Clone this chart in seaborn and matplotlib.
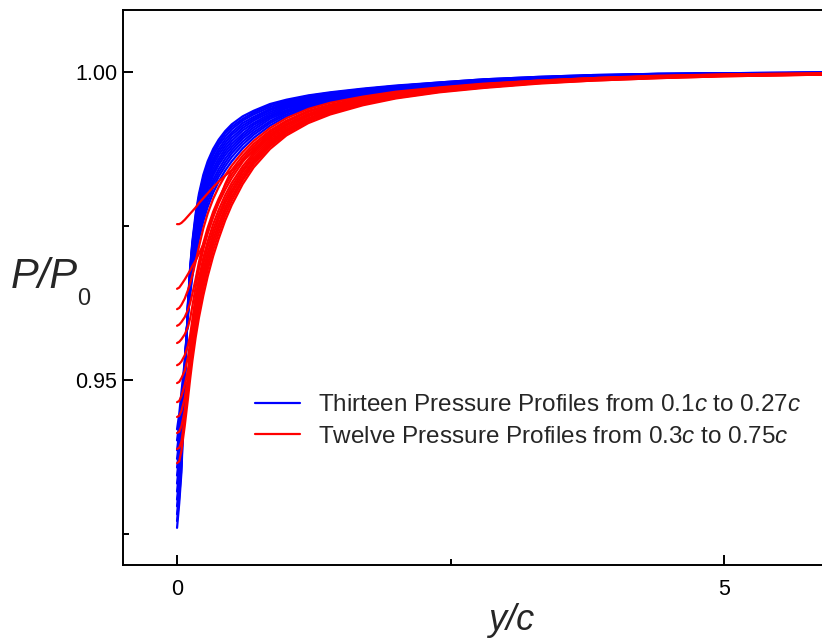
import matplotlib
matplotlib.use("Agg")
import matplotlib.pyplot as plt
import pandas as pd
import seaborn as sns
from matplotlib.ticker import FixedLocator

sns.set_theme(style="white")
plt.rcParams["font.family"] = ["Liberation Sans", "DejaVu Sans"]
plt.rcParams["mathtext.fontset"] = "custom"
plt.rcParams["mathtext.rm"] = "Liberation Sans"
plt.rcParams["mathtext.it"] = "Liberation Sans:italic"

# ---- data ----
x_grid = [0, .02, .04, .07, .1, .12, .14, .17, .2, .24, .28, .33, .38, .44, .5,
          .6, .7, .85, 1.0, 1.2, 1.4, 1.7, 2.0, 2.4, 2.8, 3.3, 3.8, 4.4, 5.0, 6.0]

blue_profiles = [
    [.926, .930, .935, .949, .9626, .9684, .9725, .9770, .9802, .9833, .9855, .9875, .9890, .9904, .9915, .9928, .9937, .9948, .9955, .9962, .9967, .9973, .9978, .9983, .9988, .9992, .9995, .9997, .9998, .9999],
    [.9271, .9310, .9359, .9493, .9625, .9681, .9721, .9765, .9797, .9828, .9850, .9870, .9885, .9900, .9911, .9924, .9934, .9946, .9953, .9961, .9966, .9972, .9977, .9983, .9988, .9992, .9995, .9997, .9998, .9999],
    [.9282, .9320, .9368, .9496, .9623, .9678, .9717, .9761, .9792, .9823, .9845, .9865, .9881, .9895, .9907, .9921, .9931, .9943, .9951, .9959, .9965, .9972, .9977, .9982, .9987, .9991, .9994, .9997, .9998, .9999],
    [.9295, .9332, .9379, .9499, .9621, .9674, .9713, .9755, .9786, .9817, .9839, .9859, .9875, .9890, .9902, .9917, .9927, .9940, .9949, .9958, .9964, .9971, .9976, .9982, .9987, .9991, .9994, .9996, .9998, .9999],
    [.9306, .9342, .9388, .9502, .9620, .9671, .9709, .9750, .9781, .9811, .9834, .9854, .9870, .9885, .9898, .9913, .9924, .9938, .9947, .9956, .9963, .9970, .9975, .9981, .9986, .9991, .9994, .9996, .9997, .9999],
    [.9319, .9354, .9398, .9505, .9618, .9667, .9704, .9745, .9775, .9805, .9828, .9849, .9865, .9880, .9893, .9909, .9921, .9935, .9945, .9955, .9961, .9969, .9975, .9980, .9986, .9990, .9994, .9996, .9997, .9999],
    [.9332, .9365, .9409, .9508, .9617, .9664, .9699, .9739, .9769, .9799, .9822, .9843, .9859, .9875, .9888, .9905, .9917, .9932, .9943, .9953, .9960, .9968, .9974, .9980, .9985, .9990, .9993, .9996, .9997, .9999],
    [.9345, .9377, .9419, .9511, .9615, .9660, .9695, .9734, .9763, .9793, .9816, .9837, .9854, .9870, .9883, .9900, .9914, .9929, .9941, .9951, .9959, .9967, .9973, .9979, .9985, .9989, .9993, .9995, .9997, .9998],
    [.9358, .9388, .9429, .9514, .9613, .9657, .9690, .9729, .9757, .9787, .9810, .9832, .9849, .9865, .9878, .9896, .9910, .9927, .9938, .9950, .9958, .9966, .9972, .9979, .9984, .9989, .9993, .9995, .9997, .9998],
    [.9372, .9402, .9441, .9518, .9611, .9653, .9685, .9722, .9751, .9781, .9803, .9825, .9842, .9859, .9873, .9892, .9906, .9924, .9936, .9948, .9957, .9965, .9972, .9978, .9984, .9988, .9992, .9995, .9997, .9998],
    [.9386, .9415, .9453, .9522, .9609, .9648, .9680, .9716, .9744, .9774, .9797, .9819, .9836, .9853, .9868, .9887, .9902, .9920, .9934, .9946, .9955, .9964, .9971, .9977, .9983, .9988, .9992, .9995, .9996, .9998],
    [.9402, .9429, .9466, .9526, .9607, .9644, .9674, .9710, .9737, .9766, .9789, .9812, .9830, .9847, .9862, .9882, .9898, .9917, .9931, .9944, .9954, .9963, .9970, .9977, .9983, .9988, .9991, .9994, .9996, .9998],
    [.942, .9445, .948, .953, .9605, .9639, .9668, .9702, .9729, .9758, .9781, .9804, .9822, .9840, .9855, .9876, .9893, .9913, .9928, .9942, .9952, .9962, .9969, .9976, .9982, .9987, .9991, .9994, .9996, .9998],
]

red_profiles = [
    [.9753, .9753, .9755, .9760, .9766, .9770, .9774, .9780, .9787, .9795, .9803, .9813, .9822, .9832, .9840, .9856, .9872, .9896, .9914, .9931, .9942, .9955, .9964, .9972, .9978, .9984, .9989, .9992, .9995, .9997],
    [.9648, .9650, .9655, .9663, .9672, .9678, .9685, .9694, .9705, .9720, .9740, .9765, .9790, .9818, .9841, .9864, .9883, .9905, .9921, .9937, .9947, .9958, .9966, .9974, .9980, .9986, .9990, .9993, .9996, .9998],
    [.9615, .9617, .9622, .9632, .9646, .9657, .9670, .9692, .9716, .9746, .9770, .9794, .9813, .9832, .9848, .9870, .9888, .9909, .9925, .9940, .9950, .9960, .9968, .9975, .9981, .9986, .9990, .9994, .9996, .9998],
    [.9588, .9590, .9594, .9602, .9614, .9625, .9640, .9664, .9691, .9722, .9747, .9773, .9794, .9816, .9834, .9859, .9879, .9902, .9919, .9935, .9946, .9957, .9965, .9973, .9979, .9985, .9990, .9993, .9995, .9997],
    [.9560, .9562, .9566, .9574, .9586, .9600, .9620, .9651, .9680, .9712, .9738, .9765, .9787, .9809, .9828, .9854, .9875, .9899, .9916, .9932, .9944, .9956, .9964, .9973, .9979, .9985, .9989, .9992, .9995, .9997],
    [.9524, .9526, .9530, .9540, .9556, .9573, .9598, .9636, .9665, .9698, .9725, .9753, .9776, .9800, .9820, .9847, .9869, .9894, .9913, .9930, .9942, .9954, .9963, .9972, .9978, .9984, .9989, .9992, .9995, .9997],
    [.9495, .9497, .9503, .9515, .9537, .9562, .9589, .9625, .9655, .9688, .9716, .9744, .9768, .9793, .9814, .9842, .9865, .9891, .9910, .9928, .9940, .9953, .9962, .9971, .9977, .9984, .9988, .9992, .9994, .9997],
    [.9464, .9466, .9474, .9492, .9516, .9549, .9578, .9614, .9645, .9678, .9706, .9736, .9761, .9787, .9808, .9838, .9861, .9888, .9907, .9925, .9938, .9951, .9961, .9970, .9977, .9983, .9988, .9991, .9994, .9997],
    [.9440, .9442, .9450, .9470, .9505, .9538, .9567, .9604, .9634, .9669, .9697, .9728, .9753, .9780, .9803, .9833, .9857, .9885, .9905, .9924, .9936, .9950, .9960, .9969, .9976, .9983, .9987, .9991, .9994, .9996],
    [.9414, .9416, .9425, .9450, .9494, .9527, .9556, .9593, .9624, .9659, .9688, .9720, .9746, .9774, .9797, .9828, .9854, .9882, .9903, .9922, .9935, .9949, .9959, .9969, .9975, .9982, .9987, .9991, .9994, .9996],
    [.9388, .9390, .9400, .9437, .9484, .9516, .9545, .9582, .9614, .9649, .9679, .9711, .9738, .9767, .9791, .9824, .9850, .9879, .9900, .9920, .9933, .9948, .9958, .9968, .9975, .9982, .9986, .9990, .9993, .9996],
    [.9365, .9368, .9385, .9425, .9470, .9502, .9531, .9569, .9601, .9637, .9668, .9701, .9729, .9759, .9784, .9818, .9845, .9875, .9897, .9917, .9931, .9946, .9957, .9967, .9974, .9981, .9986, .9990, .9993, .9996],
]

blue_label = "Thirteen Pressure Profiles from 0.1$\\mathit{c}$ to 0.27$\\mathit{c}$"
red_label = "Twelve Pressure Profiles from 0.3$\\mathit{c}$ to 0.75$\\mathit{c}$"

x_ticks = [0, 5]
x_minor = [2.5]
y_ticks = [0.95, 1.00]
y_tick_labels = ["0.95", "1.00"]
y_minor = [0.925, 0.975]

# ---- build long table ----
rows = []
for i, prof in enumerate(blue_profiles):
    for x, y in zip(x_grid, prof):
        rows.append((x, y, f"b{i}", blue_label))
for i, prof in enumerate(red_profiles):
    for x, y in zip(x_grid, prof):
        rows.append((x, y, f"r{i}", red_label))
df = pd.DataFrame(rows, columns=["x", "y", "curve", "group"])

W, H = 822, 638
fig = plt.figure(figsize=(W / 100, H / 100), dpi=100)
ax = fig.add_axes([123 / W, 73 / H, 717 / W, 555 / H])

sns.lineplot(data=df, x="x", y="y", hue="group", units="curve", estimator=None,
             sort=False, palette={blue_label: "#0000ff", red_label: "#ff0000"},
             linewidth=1.6, ax=ax)

ax.set_xlim(-0.494, 6.06)
ax.set_ylim(0.91997, 1.01006)
ax.set_xlabel("")
ax.set_ylabel("")

ax.xaxis.set_major_locator(FixedLocator(x_ticks))
ax.xaxis.set_minor_locator(FixedLocator(x_minor))
ax.yaxis.set_major_locator(FixedLocator(y_ticks))
ax.yaxis.set_minor_locator(FixedLocator(y_minor))
ax.set_xticklabels([str(t) for t in x_ticks])
ax.set_yticklabels(y_tick_labels)

for s in ax.spines.values():
    s.set_linewidth(1.4)
    s.set_color("black")
ax.tick_params(axis="both", which="both", direction="in", color="black",
               width=1.4, bottom=True, left=True, top=False, right=False,
               labelsize=15.5, labelcolor="black")
ax.tick_params(axis="both", which="major", length=7.5)
ax.tick_params(axis="both", which="minor", length=4.5)
ax.tick_params(axis="x", which="major", pad=10)
ax.tick_params(axis="y", which="major", pad=4)

handles, labels = ax.get_legend_handles_labels()
for h in handles:
    h.set_linewidth(1.6)
ax.legend(handles, labels, loc="center left",
          bbox_to_anchor=(255 / W, 1 - 421 / H), bbox_transform=fig.transFigure,
          frameon=False, fontsize=17.5, handlelength=1.86, handletextpad=0.74,
          labelspacing=0.4, borderpad=0, borderaxespad=0)

fig.text(11 / W, 1 - 288 / H, "P/P", fontsize=30, style="italic",
         ha="left", va="baseline")
fig.text(77 / W, 1 - 305 / H, "0", fontsize=17, ha="left", va="baseline")
fig.text(511 / W, 1 - 630 / H, "y/c", fontsize=26, style="italic",
         ha="center", va="baseline")

fig.savefig("out.png", dpi=100)
